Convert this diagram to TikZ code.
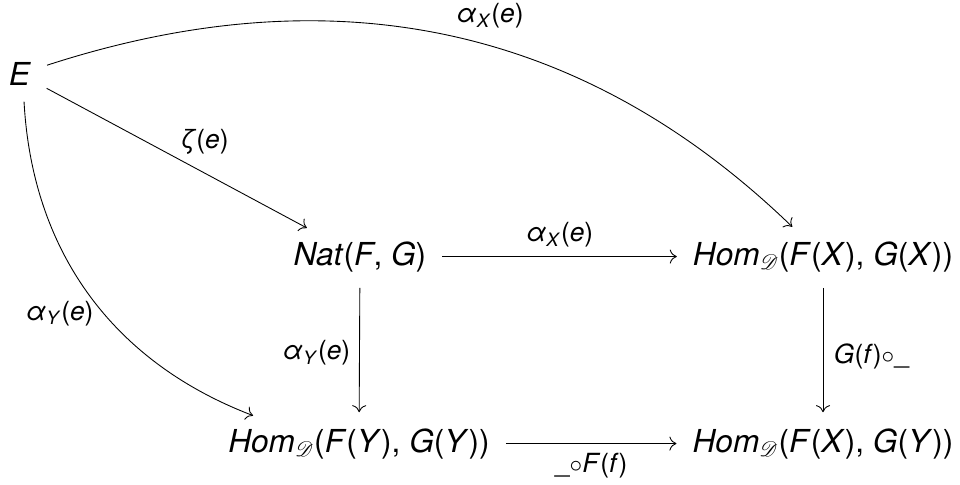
\documentclass[tikz,border=0pt]{standalone}
\usepackage{fontspec}
\setmainfont{TeX Gyre Heros}
\usepackage{mathrsfs}
\usepackage{tikz}
\usetikzlibrary{arrows.meta}

\newcommand{\homD}{\textit{Hom}\textsubscript{$\mathscr{D}$}}
\newcommand{\alX}{\textit{α}\textsubscript{\textit{X}}(\textit{e})}
\newcommand{\alY}{\textit{α}\textsubscript{\textit{Y}}(\textit{e})}

\tikzset{
  obj/.style={inner sep=6pt, font=\fontsize{18}{20}\selectfont},
  lbl/.style={inner sep=2pt, font=\fontsize{15}{17}\selectfont},
  arr/.style={-{To[length=4pt,width=8pt]}, shorten >=3pt, shorten <=3pt, line width=0.5pt},
}

\begin{document}
\begin{tikzpicture}[x=0.2mm, y=0.2mm]
\useasboundingbox (0,0) rectangle (960,484);
% objects
\node[obj] (E)    at (20,410)  {\textit{E}};
\node[obj, anchor=base] (nat)  at (360,219) {\textit{Nat}(\textit{F}, \textit{G})};
\node[obj, anchor=base] (homXX) at (823,219) {\homD(\textit{F}(\textit{X}), \textit{G}(\textit{X}))};
\node[obj, anchor=base] (homYY) at (359,32)  {\homD(\textit{F}(\textit{Y}), \textit{G}(\textit{Y}))};
\node[obj, anchor=base] (homXY) at (823,32)  {\homD(\textit{F}(\textit{X}), \textit{G}(\textit{Y}))};

% square
\draw[arr] (nat) -- node[lbl, above=3pt] (lnat) {\alX} (homXX);
\draw[arr] (nat) -- node[lbl, left=3pt, pos=0.52] (lnatY) {\alY} (homYY);
\draw[arr] (homXX) -- node[lbl, right=4pt, pos=0.55] (lpost) {\textit{G}(\textit{f})$\circ$\_} (homXY);
\draw[arr] (homYY) -- node[lbl, below=3pt] (lpre) {\_$\circ$\textit{F}(\textit{f})} (homXY);

% from E
\draw[arr] (E) -- node[lbl, above right] (lzeta) {\textit{ζ}(\textit{e})} (nat);
\draw[arr] (E) to[out=18, in=136] node[lbl, above=8pt, pos=0.56] (ltop) {\alX} (homXX);
\draw[arr] (E) to[bend right=33] node[lbl, left=4pt, pos=0.56] (lleft) {\alY} (homYY);
\end{tikzpicture}
\end{document}
